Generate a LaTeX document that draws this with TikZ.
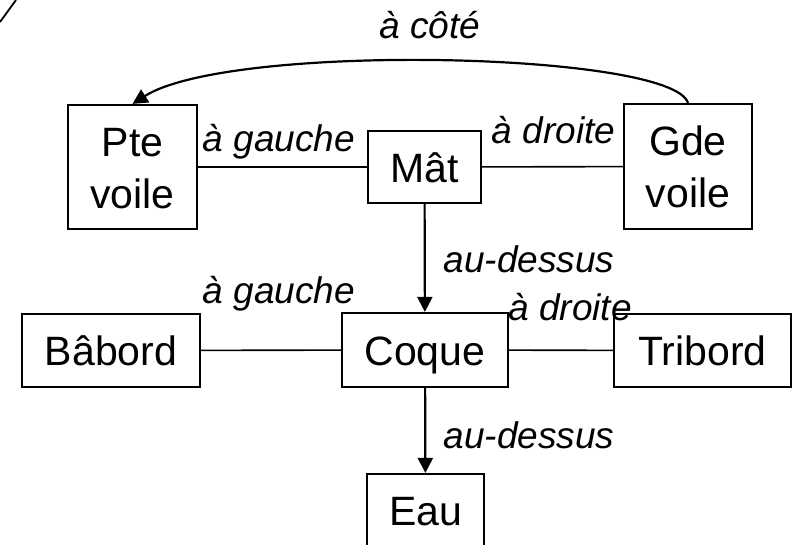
\documentclass[tikz,border=0pt]{standalone}
\usepackage{fontspec}
\setmainfont{Liberation Sans}
\usetikzlibrary{arrows.meta}
\begin{document}
\begin{tikzpicture}[x=1pt,y=-1pt,
  box/.style={draw,line width=2.2pt,inner sep=0pt,font=\fontsize{41}{52}\selectfont,
    text height=30pt,text depth=0pt},
  twobox/.style={box,align=center,text height=82pt},
  lbl/.style={font=\fontsize{37}{44}\selectfont\itshape,anchor=base,inner sep=0pt},
  plain/.style={line width=1.6pt},
  arr/.style={line width=2.2pt,-{Triangle[length=15pt,width=15pt]}}]
\useasboundingbox (0,0) rectangle (794,544);
\draw[line width=1.8pt] (0,22) -- (16,0);
\node[twobox,minimum width=129pt,minimum height=124pt] (pte) at (132.5,167) {Pte\\voile};
\node[twobox,minimum width=128pt,minimum height=125pt] (gde) at (688,166.5) {Gde\\voile};
\node[box,minimum width=113pt,minimum height=72pt] (mat) at (424.5,167) {Mât};
\node[box,minimum width=166pt,minimum height=74pt] (coque) at (425,350) {Coque};
\node[box,minimum width=178pt,minimum height=73pt] (babord) at (111,350.5) {Bâbord};
\node[box,minimum width=177pt,minimum height=73pt] (tribord) at (702.5,350.5) {Tribord};
\node[box,minimum width=117pt,minimum height=72pt] (eau) at (425.5,510) {Eau};
\draw[plain] (pte) -- (mat);
\draw[plain] (mat) -- (gde);
\draw[plain] (babord) -- (coque);
\draw[plain] (coque) -- (tribord);
\draw[arr] (mat) -- (coque);
\draw[arr] (coque) -- (eau);
\draw[arr] (gde.north) .. controls (672,52) and (230,42) .. (pte.north);
\node[lbl] (l1) at (430,38) {à côté};
\node[lbl] (l2) at (279,151) {à gauche};
\node[lbl] (l3) at (553.5,143) {à droite};
\node[lbl] (l4) at (529,272) {au-dessus};
\node[lbl] (l5) at (279,303) {à gauche};
\node[lbl] (l6) at (570,320) {à droite};
\node[lbl] (l7) at (529,448) {au-dessus};
\end{tikzpicture}
\end{document}
